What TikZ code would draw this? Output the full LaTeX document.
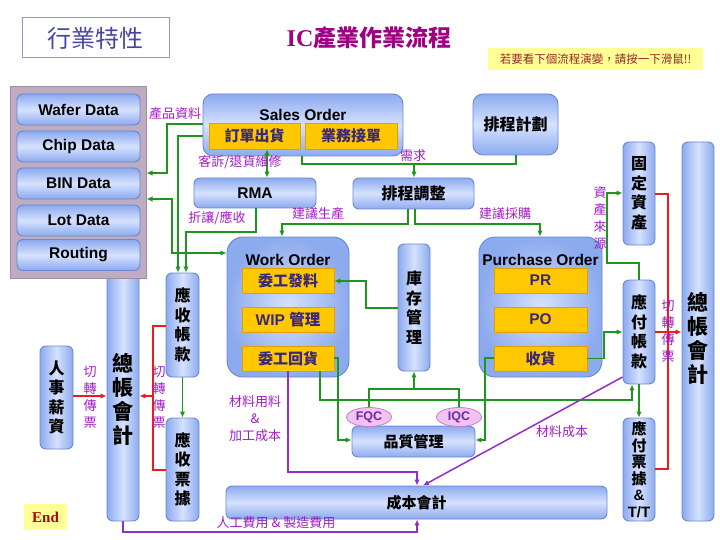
\documentclass[tikz,border=0pt]{standalone}
\usepackage{fontspec}
\setmainfont{Liberation Sans}
\newfontfamily\cjk{Noto Sans CJK TC}
\newfontfamily\serifb{Liberation Serif}
\usetikzlibrary{arrows.meta,shapes.geometric}
\definecolor{bA}{RGB}{140,170,238}
\definecolor{bB}{RGB}{214,226,255}
\definecolor{bE}{RGB}{105,135,210}
\definecolor{yF}{RGB}{255,200,0}
\definecolor{yE}{RGB}{225,160,0}
\definecolor{gC}{RGB}{30,150,30}
\definecolor{rC}{RGB}{230,30,30}
\definecolor{pC}{RGB}{150,45,200}
\definecolor{lC}{RGB}{160,30,195}
\definecolor{panelF}{RGB}{190,172,192}
\definecolor{panelE}{RGB}{160,140,165}
\definecolor{ttl}{RGB}{160,0,130}
\definecolor{subt}{RGB}{60,40,120}
\definecolor{noteF}{RGB}{255,255,150}
\definecolor{noteT}{RGB}{150,40,40}
\definecolor{hyE}{RGB}{150,150,200}
\definecolor{hyT}{RGB}{70,70,160}
\definecolor{ellF}{RGB}{242,195,242}
\definecolor{ellE}{RGB}{190,130,205}
\definecolor{ellT}{RGB}{110,40,160}
\begin{document}
\begin{tikzpicture}[x=1pt,y=-1pt,
  bx/.style={draw=bE, line width=0.9pt, rounded corners=6pt, inner sep=0pt, text=black},
  bxv/.style={bx, left color=bA, right color=bA, middle color=bB},
  bxh/.style={bx, top color=bA, bottom color=bA, middle color=bB},
  bxr/.style={bx, inner color=bB, outer color=bA, rounded corners=16pt},
  yb/.style={draw=yE, fill=yF, line width=0.6pt, inner sep=0pt, text=subt},
  en/.style={font=\bfseries\fontsize{15.5}{17}\selectfont},
  zh/.style={font=\cjk\bfseries\fontsize{15}{17}\selectfont},
  vzh/.style={align=center, font=\cjk\bfseries\fontsize{16}{19.5}\selectfont},
  bigzh/.style={align=center, inner sep=0pt, font=\cjk\bfseries\fontsize{21}{24}\selectfont},
  lbl/.style={text=lC, inner sep=0pt, font=\cjk\fontsize{13}{15}\selectfont},
  vlbl/.style={lbl, align=center, font=\cjk\fontsize{13}{17}\selectfont},
  pbtn/.style={bxh, minimum width=123pt, minimum height=31pt, en},
  ell/.style={ellipse, draw=ellE, fill=ellF, line width=0.8pt, inner sep=0pt,
    minimum width=45pt, minimum height=19pt, text=ellT, font=\bfseries\fontsize{12.5}{14}\selectfont},
  tip/.style={-{Latex[length=6pt,width=5.5pt]}},
  tipboth/.style={{Latex[length=6pt,width=5.5pt]}-{Latex[length=6pt,width=5.5pt]}},
  gline/.style={draw=gC, line width=1.6pt},
  rline/.style={draw=rC, line width=1.7pt},
  pline/.style={draw=pC, line width=1.5pt}]
\useasboundingbox (0,0) rectangle (720,540);
% header
\node[draw=hyE, line width=1pt, minimum width=147pt, minimum height=40pt, text=hyT,
  font=\cjk\fontsize{24}{26}\selectfont] (hy) at (95.5,38) {行業特性};
\node[text=ttl, inner sep=0pt] (title) at (369,38)
  {{\serifb\bfseries\fontsize{24}{26}\selectfont IC}{\cjk\bfseries\fontsize{23}{26}\selectfont 產業作業流程}};
\node[fill=noteF, minimum width=215pt, minimum height=22pt, inner sep=0pt, text=noteT,
  font=\cjk\fontsize{11.5}{13}\selectfont] (note) at (595.5,59) {若要看下個流程演變，請按一下滑鼠!!};
% left general ledger (behind panel)
\node[bxv, minimum width=32pt, minimum height=259pt] (glL) at (123,391.5) {};
\node[bigzh] (glLt) at (123,399) {總\\帳\\會\\計};
% panel
\node[draw=panelE, fill=panelF, line width=1pt, minimum width=136pt, minimum height=191pt, inner sep=0pt] (panel) at (78,182.5) {};
\node[pbtn] (wafer) at (78.5,109.5) {Wafer Data};
\node[pbtn] (chip) at (78.5,146.5) {Chip Data};
\node[pbtn] (bin) at (78.5,183.5) {BIN Data};
\node[pbtn] (lot) at (78.5,220.5) {Lot Data};
\node[pbtn] (routing) at (78.5,255) {Routing};
% left column boxes
\node[bxv, minimum width=33pt, minimum height=103pt, vzh] (hr) at (56.5,397.5) {人\\事\\薪\\資};
\node[bxv, minimum width=33pt, minimum height=104pt, vzh] (ar) at (182.5,325) {應\\收\\帳\\款};
\node[bxv, minimum width=33pt, minimum height=103pt, vzh] (arn) at (182.5,469.5) {應\\收\\票\\據};
% sales order
\node[bxh, rounded corners=10pt, minimum width=200pt, minimum height=62pt] (so) at (303,125) {};
\node[en] (sot) at (303,115) {Sales Order};
\node[yb, minimum width=91pt, minimum height=26pt, zh] (so1) at (254.5,136) {訂單出貨};
\node[yb, minimum width=92pt, minimum height=26pt, zh] (so2) at (351,136) {業務接單};
\node[bxh, rounded corners=10pt, minimum width=85pt, minimum height=61pt, font=\cjk\bfseries\fontsize{16}{18}\selectfont] (plan) at (515.5,124.5) {排程計劃};
\node[bxh, minimum width=122pt, minimum height=30pt, en] (rma) at (255,193) {RMA};
\node[bxh, minimum width=121pt, minimum height=31pt, font=\cjk\bfseries\fontsize{16}{18}\selectfont] (adj) at (413.5,193.5) {排程調整};
% work order
\node[bxr, minimum width=122pt, minimum height=140pt] (wo) at (288,307) {};
\node[en] (wot) at (288,260) {Work Order};
\node[yb, minimum width=92pt, minimum height=25pt, zh] (wo1) at (288,280.5) {委工發料};
\node[yb, minimum width=92pt, minimum height=25pt, font=\bfseries\fontsize{15.5}{17}\selectfont] (wo2) at (288,319.5) {WIP {\cjk 管理}};
\node[yb, minimum width=92pt, minimum height=25pt, zh] (wo3) at (288,358.5) {委工回貨};
\node[bxv, minimum width=32pt, minimum height=127pt, vzh] (inv) at (414,307.5) {庫\\存\\管\\理};
% purchase order
\node[bxr, minimum width=123pt, minimum height=140pt] (po) at (540.5,307) {};
\node[en] (pot) at (540.5,260) {Purchase Order};
\node[yb, minimum width=93pt, minimum height=25pt, en, text=subt] (po1) at (540.5,280.5) {PR};
\node[yb, minimum width=93pt, minimum height=25pt, en, text=subt] (po2) at (540.5,319.5) {PO};
\node[yb, minimum width=93pt, minimum height=25pt, zh] (po3) at (540.5,358.5) {收貨};
% right column
\node[bxv, minimum width=32pt, minimum height=103pt, vzh] (fa) at (639,193.5) {固\\定\\資\\產};
\node[bxv, minimum width=32pt, minimum height=104pt, vzh] (ap) at (639,332) {應\\付\\帳\\款};
\node[bxv, minimum width=32pt, minimum height=103pt, align=center, font=\cjk\bfseries\fontsize{15}{16.5}\selectfont] (apn) at (639,469.5)
  {應\\付\\票\\據\\{\normalfont\bfseries\&}\\{\normalfont\bfseries T/T}};
\node[bxv, minimum width=32pt, minimum height=379pt] (glR) at (698,331.5) {};
\node[bigzh] (glRt) at (698,338) {總\\帳\\會\\計};
% quality
\node[bxh, minimum width=123pt, minimum height=31pt, font=\cjk\bfseries\fontsize{15}{17}\selectfont] (qc) at (413.5,441.5) {品質管理};
\node[ell] (fqc) at (369,417) {FQC};
\node[ell] (iqc) at (459,417) {IQC};
% cost
\node[bxh, minimum width=381pt, minimum height=33pt, font=\cjk\bfseries\fontsize{15}{17}\selectfont] (cost) at (416.5,502.5) {成本會計};
% end
\node[fill=noteF, minimum width=43pt, minimum height=26pt, inner sep=0pt, text=red!70!black,
  font=\serifb\bfseries\fontsize{15}{17}\selectfont] (end) at (45.5,517) {End};

% green connectors
\draw[gline,tip] ([yshift=1pt]so.west) -| (167,173) -- (panel.east |- 0,173);
\draw[gline,tip] ([yshift=-11pt]so.west) -| ([xshift=-4.5pt]ar.north);
\draw[gline,tip] (rma.south -| 256,0) |- (186,232) -- ([xshift=3.5pt]ar.north);
\draw[gline,tipboth] (wo.west |- 0,253) -| (172,199) -- (panel.east |- 0,199);
\draw[gline,tipboth] (so1.south -| 267,0) -- (rma.north -| 267,0);
\draw[gline] (so.south -| 302,0) |- (516,164) -- (plan.south -| 516,0);
\draw[gline,tip] (414,164) -- (adj.north -| 414,0);
\draw[gline,tip] (adj.south -| 408,0) |- (282,224) -- (wo.north -| 282,0);
\draw[gline,tip] (adj.south -| 415,0) |- (540,224) -- (po.north -| 540,0);
\draw[gline,tip] (inv.west |- 0,308) -| (366,281) -- (wo1.east |- 0,281);
\draw[gline] (fqc.north) |- (iqc.north |- 0,389) -- (iqc.north);
\draw[gline,tip] (inv.south |- 0,389) -- (inv.south);
\draw[gline,tip] (wo3.south -| 320,0) |- (632,400) -- (ap.south -| 632,0);
\draw[gline,tip] (wo3.east |- 0,358) -| (338,440) -- (qc.west |- 0,440);
\draw[gline,tip] (po3.west |- 0,358) -| (485,440) -- (qc.east |- 0,440);
\draw[gline,tip] (po3.east) -| (604,332) -- (ap.west |- 0,332);
\draw[gline,tip] (ap.north) |- (607,263) |- (fa.west |- 0,193);
\draw[gline,tip] (ap.south) -- (apn.north);
\draw[gline,tip] (ar.south) -- (arn.north);
% red connectors
\draw[rline] (fa.east |- 0,194) -| (668,469) -- (apn.east |- 0,469);
\draw[rline,tip] (ap.east |- 0,332) -- (glR.west |- 0,332);
\draw[rline] (ar.west |- 0,326) -| (153,470) -- (arn.west |- 0,470);
\draw[rline,tip] (153,396) -- (glL.east |- 0,396);
\draw[rline,tip] (hr.east |- 0,396) -- (glL.west |- 0,396);
% purple connectors
\draw[pline,tip] (wo3.south -| 288,0) |- (417,472) -- (cost.north -| 417,0);
\draw[pline,tip] (ap.west |- 0,377) -- (cost.north -| 423,0);
\draw[pline,tip] (glL.south) |- (417,532) -- (cost.south -| 417,0);

% labels
\node[lbl] at (175,114) {產品資料};
\node[lbl] at (240,162) {客訴/退貨維修};
\node[lbl] at (413,156) {需求};
\node[lbl] at (217,218) {折讓/應收};
\node[lbl] at (318,214) {建議生產};
\node[lbl] at (505,214) {建議採購};
\node[vlbl] at (600,218) {資\\產\\來\\源};
\node[vlbl] at (90,397) {切\\轉\\傳\\票};
\node[vlbl] at (159,397) {切\\轉\\傳\\票};
\node[vlbl] at (668,331) {切\\轉\\傳\\票};
\node[vlbl] at (255,419) {材料用料\\\&\\加工成本};
\node[lbl] at (562,432) {材料成本};
\node[lbl] at (276,523) {人工費用 \& 製造費用};
\end{tikzpicture}
\end{document}
